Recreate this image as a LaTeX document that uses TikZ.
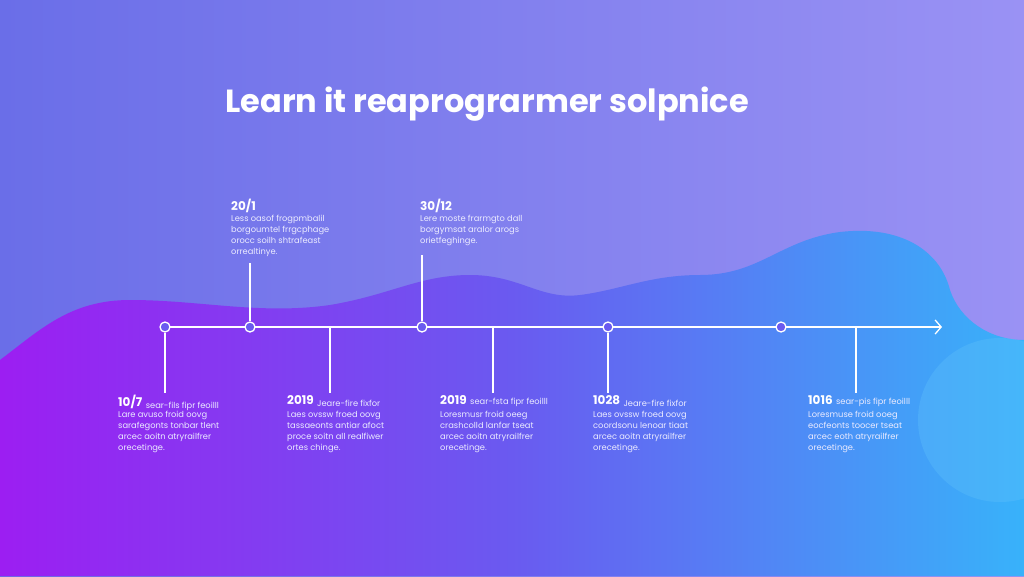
\documentclass[tikz,border=0pt]{standalone}
\usepackage{fontspec}
\setmainfont{Poppins}
\usetikzlibrary{arrows.meta}
\definecolor{bgL}{HTML}{6A6EE8}
\definecolor{bgR}{HTML}{9A92F4}
\definecolor{wvL}{HTML}{9C1EF2}
\definecolor{wvM}{HTML}{6A5AF0}
\definecolor{wvR}{HTML}{38B2FA}
\tikzset{
 tl/.style={white,line width=1.3pt},
 dot/.style={circle,draw=white,line width=1.3pt,minimum size=10pt,inner sep=0pt},
 date/.style={anchor=north west,text=white,font=\fontsize{12}{13}\selectfont\bfseries,inner sep=0pt},
 body/.style={anchor=north west,text=white!92!blue,font=\fontsize{8.3}{11}\selectfont,align=left,inner sep=0pt},
}
\begin{document}
\begin{tikzpicture}[x=1pt,y=-1pt]
\useasboundingbox (0,0) rectangle (1024,576);
\shade[left color=bgL,right color=bgR] (0,0) rectangle (1024,576);
\shade[left color=wvL,right color=wvR,middle color=wvM]
 (0,360) .. controls (40,330) and (70,300) .. (130,300)
 .. controls (200,300) and (260,315) .. (330,305)
 .. controls (390,295) and (420,275) .. (470,275)
 .. controls (520,275) and (540,300) .. (580,295)
 .. controls (620,290) and (650,275) .. (700,275)
 .. controls (760,275) and (780,240) .. (840,232)
 .. controls (900,225) and (940,250) .. (950,290)
 .. controls (960,320) and (990,340) .. (1024,340)
 -- (1024,576) -- (0,576) -- cycle;
\fill[wvR!80!white,opacity=0.35] (1000,420) circle (82);
\node[anchor=west,text=white,font=\fontsize{32}{34}\selectfont\bfseries] (title) at (222,104) {Learn it reaprograrmer solpnice};
\coordinate (start) at (160,327);
\coordinate (end) at (942,327);
\draw[tl,-{Straight Barb[length=6pt,width=14pt]}] (start) -- (end);
\foreach \n/\x in {a/165,b/250,c/422,d/608,e/781}{\node[dot,fill=wvM] (\n) at (\x,327) {};}
\coordinate (t1) at (250,263); \coordinate (t2) at (422,255);
\draw[tl] (b) -- (t1); \draw[tl] (c) -- (t2);
\draw[tl] (a) -- (165,393);
\foreach \x/\n in {330/p,493/q,856/r}{\coordinate (\n) at (\x,327); \coordinate (\n2) at (\x,393); \draw[tl] (\n) -- (\n2);}
\draw[tl] (d) -- (608,393);
% upper blocks
\node[date] (d1) at (231,199) {20/1};
\node[body] (b1) at (231,215) {Less oasof frogpmbalil\\borgoumtel frrgcphage\\orocc soilh shtrafeast\\orrealtinye.};
\node[date] (d2) at (420,199) {30/12};
\node[body] (b2) at (420,215) {Lere moste frarmgto dall\\borgymsat aralor arogs\\orietfeghinge.};
% lower blocks
\foreach \x/\dt/\hd/\l in {118/10\slash 7/sear-fils fipr feoilll/Lare avuso froid oovg\\sarafegonts  tonbar tlent\\arcec aoitn atryrailfrer\\orecetinge.,
 287/2019/Jeare-fire fixfor/Laes ovssw froed oovg\\tassaeonts  antiar afoct\\proce soitn all realfiwer\\ortes chinge.,
 440/2019/sear-fsta fipr feoilll/Loresmusr froid oeeg\\crashcolld  lanfar tseat\\arcec aoitn atryrailfrer\\orecetinge.,
 593/1028/Jeare-fire fixfor/Laes ovssw froed oovg\\coordsonu  lenoar tiaat\\arcec aoitn atryrailfrer\\orecetinge.,
 808/1016/sear-pis fipr feoilll/Loresmuse froid ooeg\\eocfeonts  toocer tseat\\arcec eoth atryrailfrer\\orecetinge.}{
 \node[date] (D\x) at (\x,395) {\dt};
 \node[body,anchor=south west] (H\x) at ([xshift=3pt,yshift=-2pt]D\x.south east) {\hd};
 \node[body] (B\x) at (\x,411) {\l};
}
\end{tikzpicture}
\end{document}
